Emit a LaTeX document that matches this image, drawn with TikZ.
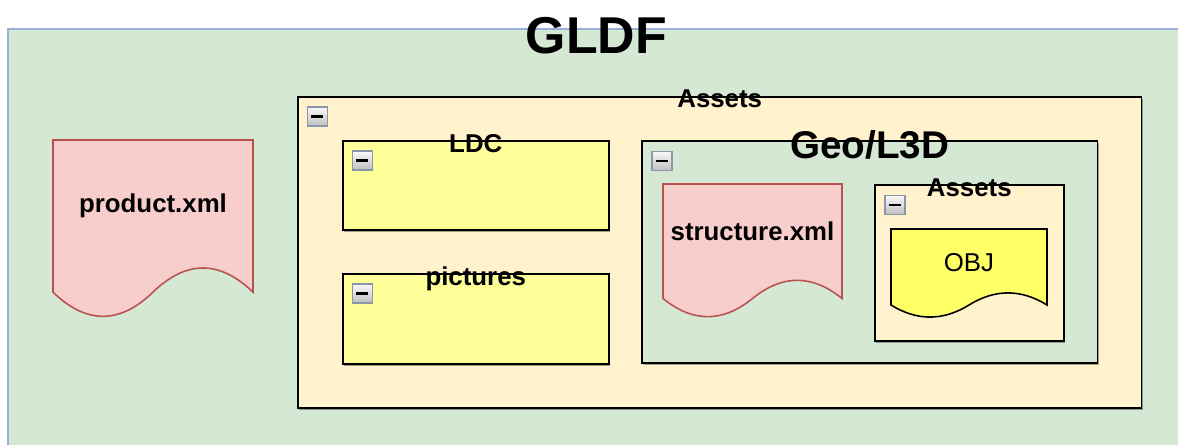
\documentclass[tikz,border=0pt]{standalone}
\usepackage{fontspec}
\setmainfont{Liberation Sans}
\usepackage{xcolor}
\usepackage{tikz}
\usetikzlibrary{positioning,shadows}
\definecolor{gldfgreen}{RGB}{213, 232, 212}
\definecolor{gldfblue}{RGB}{150, 176, 214}
\definecolor{assetfill}{RGB}{255, 242, 204}
\definecolor{folderyellow}{RGB}{255, 255, 153}
\definecolor{xmlfill}{RGB}{248, 206, 204}
\definecolor{xmlline}{RGB}{184, 84, 80}
\definecolor{objfill}{RGB}{255, 255, 102}
\definecolor{iconline}{RGB}{140, 150, 170}

% document shape: x, y (top), width, height, style
\newcommand{\docshape}[5]{%
  \draw[#5] (#1,#2) -- (#1+#3,#2) -- (#1+#3,#2+0.85*#4)
    .. controls (#1+0.8333*#3,#2+0.67*#4) and (#1+0.6667*#3,#2+0.67*#4) .. (#1+0.5*#3,#2+0.85*#4)
    .. controls (#1+0.3333*#3,#2+1.03*#4) and (#1+0.1667*#3,#2+1.03*#4) .. (#1,#2+0.85*#4) -- cycle;}

\tikzset{
  box/.style={draw=black, line width=0.9pt, anchor=north west, inner sep=0pt,
    drop shadow={shadow xshift=0.03cm, shadow yshift=-0.04cm, fill=black, opacity=0.35}},
  label/.style={font=\bfseries\fontsize{14.7}{17}\selectfont, inner sep=0pt, anchor=base},
  minus/.style={draw=iconline, line width=0.8pt, top color=gray!5, bottom color=gray!50,
    minimum width=0.4cm, minimum height=0.38cm, inner sep=0pt},
  xmldoc/.style={fill=xmlfill, draw=xmlline, line width=0.9pt},
  objdoc/.style={fill=objfill, draw=black, line width=0.9pt}
}
\newcommand{\minusbar}{\rule{0.24cm}{0.05cm}}

\begin{document}
\begin{tikzpicture}[x=0.02cm, y=-0.02cm]
\useasboundingbox (0,0) rectangle (1178,444);
\clip (0,0) rectangle (1178,444);

% GLDF container
\draw[fill=gldfgreen, draw=gldfblue, line width=0.6pt] (8,29) rectangle (1200,470);
\node[font=\bfseries\fontsize{29.5}{34}\selectfont, inner sep=0pt, anchor=base] (gldf) at (596.5,53) {GLDF};

% product.xml
\docshape{53}{140}{200}{179}{xmldoc}
\node[label] (product) at (153,212) {product.xml};

% Assets
\node[box, fill=assetfill, minimum width=16.88cm, minimum height=6.22cm] (assets) at (297,96) {};
\node[label] (assetstitle) at ([yshift=-0.22cm]assets.north) {Assets};
\node[minus] (assetsicon) at ([xshift=0.41cm, yshift=-0.41cm]assets.north west) {\minusbar};

% LDC and pictures
\node[box, fill=folderyellow, minimum width=5.32cm, minimum height=1.78cm] (ldc) at (342,140) {};
\node[label] (ldctitle) at ([yshift=-0.24cm]ldc.north) {LDC};
\node[minus] (ldcicon) at ([xshift=0.41cm, yshift=-0.41cm]ldc.north west) {\minusbar};

\node[box, fill=folderyellow, minimum width=5.32cm, minimum height=1.8cm] (pictures) at (342,273) {};
\node[label] (picturestitle) at ([yshift=-0.24cm]pictures.north) {pictures};
\node[minus] (picturesicon) at ([xshift=0.41cm, yshift=-0.41cm]pictures.north west) {\minusbar};

% Geo/L3D
\node[box, fill=gldfgreen, minimum width=9.12cm, minimum height=4.44cm] (geo) at (641,140) {};
\node[font=\bfseries\fontsize{22}{26}\selectfont, inner sep=0pt, anchor=base] (geotitle) at ([yshift=-0.36cm]geo.north) {Geo/L3D};
\node[minus] (geoicon) at ([xshift=0.42cm, yshift=-0.42cm]geo.north west) {\minusbar};

\docshape{663}{184}{179}{134.7}{xmldoc}
\node[label] (structure) at (752.5,240) {structure.xml};

% Geo/L3D assets
\node[box, fill=assetfill, minimum width=3.78cm, minimum height=3.12cm] (geoassets) at (874,184) {};
\node[label] (geoassetstitle) at ([yshift=-0.24cm]geoassets.north) {Assets};
\node[minus] (geoassetsicon) at ([xshift=0.42cm, yshift=-0.42cm]geoassets.north west) {\minusbar};

\docshape{891}{229}{156}{89.4}{objdoc}
\node[font=\fontsize{14.7}{17}\selectfont, inner sep=0pt, anchor=base] (obj) at (969,271) {OBJ};
\end{tikzpicture}
\end{document}
